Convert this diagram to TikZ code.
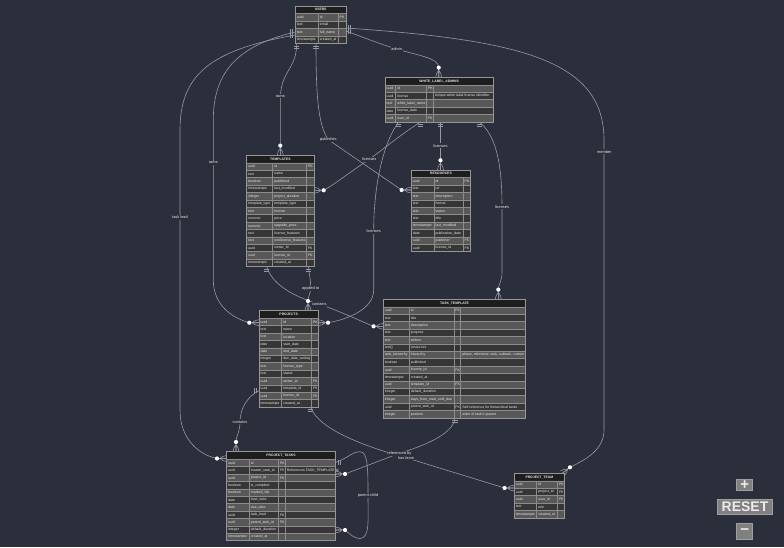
\documentclass[tikz,border=0pt]{standalone}
\usepackage{fontspec}
\setmainfont{Liberation Sans}
\usetikzlibrary{calc}

\definecolor{canvasbg}{RGB}{43,47,60}
\definecolor{headfill}{RGB}{30,30,30}
\definecolor{rowlight}{RGB}{88,88,88}
\definecolor{rowdark}{RGB}{54,54,54}
\definecolor{cellline}{RGB}{140,140,140}
\definecolor{frameline}{RGB}{150,150,150}
\definecolor{celltxt}{RGB}{232,232,232}
\definecolor{relcol}{RGB}{150,153,162}
\definecolor{btnfill}{RGB}{128,128,128}
\definecolor{btnline}{RGB}{160,160,160}
\definecolor{btntxt}{RGB}{236,236,236}

% header and row heights of the entity tables
\newcommand\hh{7.6}
\newcommand\rh{7.4}

\tikzset{
  cellbox/.style={draw=cellline, line width=0.45pt},
  celltext/.style={font=\fontsize{3.5}{4}\selectfont, text=celltxt, inner sep=0pt, anchor=west},
  headtext/.style={font=\bfseries\fontsize{3.4}{4}\selectfont, text=celltxt, inner sep=0pt},
  tabframe/.style={draw=frameline, line width=0.8pt, inner sep=0pt, outer sep=0pt, anchor=north west},
  relline/.style={draw=relcol, line width=0.6pt},
  rellabel/.style={fill=canvasbg, text=celltxt, font=\fontsize{3.9}{4.5}\selectfont, inner sep=0.8pt},
  btn/.style={fill=btnfill, draw=btnline, line width=0.6pt, text=btntxt, inner sep=0pt},
  pics/crowone/.style={code={\draw[relline] (2.6,-2.6) -- (2.6,2.6) (4.6,-2.6) -- (4.6,2.6);}},
  pics/crowmany/.style={code={
    \draw[relline] (0,-3) .. controls (3,-3) and (5,-1.5) .. (7,0)
                   (0,3) .. controls (3,3) and (5,1.5) .. (7,0)
                   (0,0) -- (7,0);
    \fill[white] (9.7,0) circle (2.1pt);}},
}

% column boundaries: type | name | key | comment (total width)
\newcommand\settabcols[4]{\def\cA{#1}\def\cB{#2}\def\cC{#3}\def\cD{#4}}

% #1 name, #2 top-left corner, #3 column boundaries, #4 row count, #5 title, #6 rows
\newcommand\ertable[6]{%
  \settabcols#3%
  \pgfmathsetmacro\tabh{\hh+#4*\rh}%
  \begin{scope}[shift={(#2)}]
    \fill[headfill] (0,0) rectangle (\cD,\hh);
    \foreach \ty/\nm/\ky/\cm [count=\ri] in {#6}{%
      \pgfmathsetmacro\yt{\hh+(\ri-1)*\rh}%
      \pgfmathsetmacro\yb{\yt+\rh}%
      \pgfmathsetmacro\ym{\yt+\rh/2}%
      \ifodd\ri \def\rf{rowlight}\else\def\rf{rowdark}\fi
      \path[cellbox, fill=\rf] (0,\yt) rectangle (\cA,\yb)
                               (\cA,\yt) rectangle (\cB,\yb)
                               (\cB,\yt) rectangle (\cC,\yb);
      \ifdim\cD pt>\cC pt \path[cellbox, fill=\rf] (\cC,\yt) rectangle (\cD,\yb);\fi
      \node[celltext] (#1-\ri-t) at (1.4,\ym) {\ty};
      \node[celltext] (#1-\ri-n) at (\cA+1.4,\ym) {\nm};
      \node[celltext] (#1-\ri-k) at (\cB+1.2,\ym) {\ky};
      \node[celltext] (#1-\ri-c) at (\cC+1.4,\ym) {\cm};
    }
    \node[tabframe, minimum width=\cD pt, minimum height=\tabh pt] (#1) at (0,0) {};
    \node[headtext] (#1-head) at (\cD/2,\hh/2) {#5};
  \end{scope}}

\begin{document}
\begin{tikzpicture}[x=1pt,y=-1pt]
  \fill[canvasbg] (0,0) rectangle (784,547);
  \useasboundingbox (0,0) rectangle (784,547);

  % ---------- entities ----------
  \ertable{users}{295.3,6}{{23}{43}{50.7}{50.7}}{4}{USERS}{
    uuid/id/PK/, text/email//, text/full\_name//, timestamptz/created\_at//}

  \ertable{wla}{385,77.3}{{10.7}{41.7}{48.3}{108.3}}{5}{WHITE\_LABEL\_ADMINS}{
    uuid/id/PK/, uuid/license//Unique white label license identifier,
    text/white\_label\_name//, date/license\_date//, uuid/user\_id/FK/}

  \ertable{templates}{246.7,155.3}{{26}{60}{67.3}{67.3}}{14}{TEMPLATES}{
    uuid/id/PK/, text/name//, boolean/published//, timestamptz/last\_modified//,
    integer/project\_duration//, template\_type/template\_type//, text/license//,
    numeric/price//, numeric/upgrade\_price//, text/license\_features//,
    text/nonlicense\_features//, uuid/owner\_id/FK/, uuid/license\_id/FK/,
    timestamptz/created\_at//}

  \ertable{resources}{411.3,170}{{22.7}{52}{59.4}{59.4}}{10}{RESOURCES}{
    uuid/id/PK/, text/url//, text/description//, text/format//, text/status//,
    text/title//, timestamptz/last\_modified//, date/publication\_date//,
    uuid/publisher/FK/, uuid/license\_id/FK/}

  \ertable{projects}{259,310.7}{{22.7}{52.7}{59.3}{59.3}}{12}{PROJECTS}{
    uuid/id/PK/, text/name//, text/location//, date/start\_date//, date/end\_date//,
    integer/due\_date\_setting//, text/license\_type//, text/status//,
    uuid/owner\_id/FK/, uuid/template\_id/FK/, uuid/license\_id/FK/,
    timestamptz/created\_at//}

  \ertable{tasktpl}{383.3,299.3}{{26}{70.7}{77.4}{142.4}}{15}{TASK\_TEMPLATE}{
    uuid/id/PK/, text/title//, text/description//, text/purpose//, text/writers//,
    text[]/resources//, {task\_hierarchy/hierarchy//phase, milestone, task, subtask, custom},
    boolean/published//, uuid/license\_id/FK/, timestamptz/created\_at//,
    uuid/template\_id/FK/, integer/default\_duration//,
    integer/days\_from\_start\_until\_due//,
    uuid/parent\_task\_id/FK/Self-reference for hierarchical tasks,
    integer/position//order of task in parent}

  \ertable{ptasks}{226.7,451.7}{{22.6}{52}{58.6}{108.6}}{11}{PROJECT\_TASKS}{
    uuid/id/PK/, uuid/master\_task\_id/FK/References TASK\_TEMPLATE.id,
    uuid/project\_id/FK/, boolean/is\_complete//, boolean/marked\_NA//,
    date/start\_date//, date/due\_date//, uuid/task\_lead/FK/,
    uuid/parent\_task\_id/FK/, integer/default\_duration//, timestamptz/created\_at//}

  \ertable{pteam}{514.3,473.3}{{22.4}{43.4}{50}{50}}{5}{PROJECT\_TEAM}{
    uuid/id/PK/, uuid/project\_id/FK/, uuid/user\_id/FK/, text/role//,
    timestamptz/created\_at//}

  % ---------- attachment points ----------
  \coordinate (usr-owns-b) at ($(users.south west)+(1.4,0)$);
  \coordinate (usr-pub-b)  at ($(users.south west)+(20.7,0)$);
  \coordinate (usr-adm-r)  at ($(users.north east)+(0,25)$);
  \coordinate (usr-mem-r)  at ($(users.north east)+(0,22)$);
  \coordinate (usr-own2-l) at ($(users.north west)+(0,26)$);
  \coordinate (usr-lead-l) at ($(users.north west)+(0,29)$);
  \coordinate (wla-adm-t)  at ($(wla.north west)+(53.7,0)$);
  \coordinate (wla-tpl-b)  at ($(wla.south west)+(35.7,0)$);
  \coordinate (wla-prj-b)  at ($(wla.south west)+(13.7,0)$);
  \coordinate (wla-res-b)  at ($(wla.south west)+(55.5,0)$);
  \coordinate (wla-tt-b)   at ($(wla.south west)+(94.3,0)$);
  \coordinate (tpl-own-t)  at ($(templates.north west)+(33.6,0)$);
  \coordinate (tpl-lic-r)  at ($(templates.north east)+(0,35)$);
  \coordinate (tpl-app-b)  at ($(templates.south west)+(61.6,0)$);
  \coordinate (tpl-con-b)  at ($(templates.south west)+(20,0)$);
  \coordinate (res-pub-l)  at ($(resources.north west)+(0,20)$);
  \coordinate (res-lic-t)  at ($(resources.north west)+(29.2,0)$);
  \coordinate (prj-own-l)  at ($(projects.north west)+(0,12)$);
  \coordinate (prj-app-t)  at ($(projects.north west)+(49,0)$);
  \coordinate (prj-lic-r)  at ($(projects.north east)+(0,12)$);
  \coordinate (prj-con-l)  at ($(projects.north west)+(0,80)$);
  \coordinate (prj-team-b) at ($(projects.south west)+(51.7,0)$);
  \coordinate (tt-lic-t)   at ($(tasktpl.north west)+(115,0)$);
  \coordinate (tt-con-l)   at ($(tasktpl.north west)+(0,27)$);
  \coordinate (tt-ref-b)   at ($(tasktpl.south west)+(71.7,0)$);
  \coordinate (pt-lead-l)  at ($(ptasks.north west)+(0,6.8)$);
  \coordinate (pt-con-t)   at ($(ptasks.north west)+(9.3,0)$);
  \coordinate (pt-ref-r)   at ($(ptasks.north east)+(0,22.3)$);
  \coordinate (pt-self-r1) at ($(ptasks.north east)+(0,10.8)$);
  \coordinate (pt-self-r2) at ($(ptasks.north east)+(0,78.3)$);
  \coordinate (tm-mem-t)   at ($(pteam.north west)+(48,0)$);
  \coordinate (tm-team-l)  at ($(pteam.north west)+(0,14.7)$);

  % ---------- relationships ----------
  \draw[relline] (usr-owns-b) .. controls (296.7,70) and (280.3,70) .. (280.3,100) -- (tpl-own-t);
  \draw[relline] (usr-pub-b) .. controls (316,95) and (318,125) .. (328.3,139.7) -- (401.6,190) -- (res-pub-l);
  \draw[relline] (usr-adm-r) .. controls (365,38) and (380,44) .. (396.7,49)
                 .. controls (420,56) and (438.7,58) .. (438.7,67.6) -- (wla-adm-t);
  \draw[relline] (usr-mem-r) .. controls (520,40) and (604,60) .. (604,140) -- (604,430)
                 .. controls (604,450) and (585,460) .. (569.9,467.3) -- (tm-mem-t);
  \draw[relline] (usr-own2-l) .. controls (240,45) and (213.3,70) .. (213.3,120) -- (213.3,280)
                 .. controls (213.3,305) and (232,318) .. (249.3,322.7) -- (prj-own-l);
  \draw[relline] (usr-lead-l) .. controls (210,50) and (180,75) .. (180,130) -- (180,410)
                 .. controls (180,440) and (200,455) .. (217,458.5) -- (pt-lead-l);
  \draw[relline] (wla-tpl-b) .. controls (400,135) and (385,148) .. (369.3,159.3)
                 .. controls (350,172) and (335,184) .. (323.7,190.3) -- (tpl-lic-r);
  \draw[relline] (wla-prj-b) .. controls (385,140) and (373.7,180) .. (373.7,231.3) -- (373.7,290)
                 .. controls (373.7,310) and (345,320) .. (328,322.7) -- (prj-lic-r);
  \draw[relline] (wla-res-b) -- (res-lic-t);
  \draw[relline] (wla-tt-b) .. controls (495,135) and (502,160) .. (502,206.7) -- (502,272)
                 .. controls (502,282) and (498.3,284) .. (498.3,289.6) -- (tt-lic-t);
  \draw[relline] (tpl-app-b) .. controls (310,278) and (311,284) .. (310.7,288.7)
                 .. controls (310.5,293) and (308,297) .. (308,301) -- (prj-app-t);
  \draw[relline] (tpl-con-b) .. controls (272,285) and (295,297) .. (319.3,304.3)
                 .. controls (340,311) and (360,321) .. (373.6,326.3) -- (tt-con-l);
  \draw[relline] (prj-con-l) .. controls (248,396) and (240,408) .. (240,421.7)
                 .. controls (240,432) and (236,436) .. (236,442) -- (pt-con-t);
  \draw[relline] (prj-team-b) .. controls (318,430) and (370,448) .. (406,457.7) -- (504.6,488) -- (tm-team-l);
  \draw[relline] (tt-ref-b) .. controls (454,432) and (430,444) .. (399.3,453.3) -- (345,474) -- (pt-ref-r);
  \draw[relline] (pt-self-r1) .. controls (348,458) and (352,452) .. (360,451.7)
                 .. controls (368,451.5) and (368,470) .. (368,495.7)
                 .. controls (368,520) and (370,538) .. (360,538.5)
                 .. controls (354,538.5) and (350,534) .. (345,530) -- (pt-self-r2);

  % ---------- cardinality marks ----------
  \pic[rotate=-90] at (usr-owns-b) {crowone};
  \pic[rotate=-90] at (usr-pub-b) {crowone};
  \pic at (usr-adm-r) {crowone};
  \pic at (usr-mem-r) {crowone};
  \pic[rotate=180] at (usr-own2-l) {crowone};
  \pic[rotate=180] at (usr-lead-l) {crowone};
  \pic[rotate=-90] at (wla-tpl-b) {crowone};
  \pic[rotate=-90] at (wla-prj-b) {crowone};
  \pic[rotate=-90] at (wla-res-b) {crowone};
  \pic[rotate=-90] at (wla-tt-b) {crowone};
  \pic[rotate=-90] at (tpl-app-b) {crowone};
  \pic[rotate=-90] at (tpl-con-b) {crowone};
  \pic[rotate=180] at (prj-con-l) {crowone};
  \pic[rotate=-90] at (prj-team-b) {crowone};
  \pic[rotate=-90] at (tt-ref-b) {crowone};
  \pic at (pt-self-r1) {crowone};

  \pic[rotate=90] at (wla-adm-t) {crowmany};
  \pic[rotate=90] at (tpl-own-t) {crowmany};
  \pic at (tpl-lic-r) {crowmany};
  \pic[rotate=180] at (res-pub-l) {crowmany};
  \pic[rotate=90] at (res-lic-t) {crowmany};
  \pic[rotate=180] at (prj-own-l) {crowmany};
  \pic[rotate=90] at (prj-app-t) {crowmany};
  \pic at (prj-lic-r) {crowmany};
  \pic[rotate=90] at (tt-lic-t) {crowmany};
  \pic[rotate=180] at (tt-con-l) {crowmany};
  \pic[rotate=180] at (pt-lead-l) {crowmany};
  \pic[rotate=90] at (pt-con-t) {crowmany};
  \pic at (pt-ref-r) {crowmany};
  \pic at (pt-self-r2) {crowmany};
  \pic[rotate=38] at (tm-mem-t) {crowmany};
  \pic[rotate=180] at (tm-team-l) {crowmany};

  % ---------- relationship labels ----------
  \node[rellabel] (l-owns1)   at (280.3,96.3)  {owns};
  \node[rellabel] (l-pub)     at (328.3,139.7) {publishes};
  \node[rellabel] (l-admin)   at (396.7,49)    {admin};
  \node[rellabel] (l-member)  at (604.3,151.7) {member};
  \node[rellabel] (l-owns2)   at (213.3,162.7) {owns};
  \node[rellabel] (l-lead)    at (180,217.3)   {task lead};
  \node[rellabel] (l-lic1)    at (369.3,159.3) {licenses};
  \node[rellabel] (l-lic2)    at (373.7,231.3) {licenses};
  \node[rellabel] (l-lic3)    at (440.5,145.7) {licenses};
  \node[rellabel] (l-lic4)    at (502,206.7)   {licenses};
  \node[rellabel] (l-applied) at (310.7,288.7) {applied to};
  \node[rellabel] (l-cont1)   at (319.3,304.3) {contains};
  \node[rellabel] (l-cont2)   at (240,421.7)   {contains};
  \node[rellabel] (l-ref)     at (399.3,453.3) {referenced by};
  \node[rellabel] (l-team)    at (406,457.7)   {has team};
  \node[rellabel] (l-parent)  at (368,495.7)   {parent-child};

  % ---------- zoom controls ----------
  \node[btn, minimum width=16pt, minimum height=11.7pt, font=\bfseries\fontsize{15}{15}\selectfont]
    (zoomin) at (744.7,484.9) {+};
  \node[btn, minimum width=55.4pt, minimum height=15pt, font=\bfseries\fontsize{14}{14}\selectfont]
    (reset) at (745,506.5) {RESET};
  \node[btn, minimum width=16pt, minimum height=15.7pt, font=\bfseries\fontsize{15}{15}\selectfont]
    (zoomout) at (744.7,531.2) {−};
\end{tikzpicture}
\end{document}
